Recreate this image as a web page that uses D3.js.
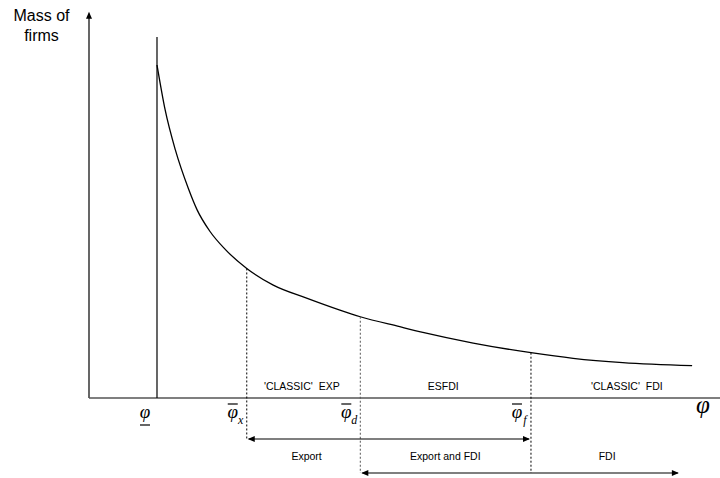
<!DOCTYPE html>
<html>
<head>
<meta charset="utf-8">
<script src="https://cdn.jsdelivr.net/npm/d3@7"></script>
<style>
  body { margin: 0; background: #fff; }
  svg { display: block; }
</style>
</head>
<body>
<div id="chart"></div>
<script>
const width = 720;
const height = 478;

// productivity (phi) and mass of firms
const phiValues = [1.00, 1.12, 1.27, 1.46, 1.59, 1.78, 2.00, 2.32, 2.71, 3.20, 3.69, 3.99, 4.57, 4.91, 5.65, 6.50, 7.12, 7.85, 8.87];
const massValues = [1.000, 0.865, 0.745, 0.630, 0.565, 0.500, 0.447, 0.389, 0.339, 0.300, 0.264, 0.244, 0.214, 0.197, 0.165, 0.136, 0.119, 0.106, 0.097];

// cut-offs
const phiLow = 1.00;
const thresholds = [
  {key: "x", phi: 2.32, bottom: "export"},
  {key: "d", phi: 3.99, bottom: "fdi"},
  {key: "f", phi: 6.50, bottom: "fdi"}
];

const regionLabels = ["'CLASSIC'  EXP", "ESFDI", "'CLASSIC'  FDI"];
const regionPos = [3.13, 5.21, 7.91];

const rangeLabels = ["Export", "Export and FDI", "FDI"];
const rangePos = [3.20, 5.24, 7.62];

const exportRange = [2.32, 6.50];
const fdiRange = [3.99, 8.69];

const x = d3.scaleLinear().domain([0, 9.28]).range([89, 720]);
const y = d3.scaleLinear().domain([0, 1]).range([398, 65]);

const svg = d3.select("#chart")
    .append("svg")
    .attr("width", width)
    .attr("height", height)
    .attr("viewBox", [0, 0, width, height])
    .style("font-family", "'Liberation Sans', Arial, sans-serif");

svg.append("rect").attr("width", width).attr("height", height).attr("fill", "#fff");

function arrowHead(px, py, dir) {
  // dir: "up", "left", "right"
  const l = 7, w = 3;
  let pts;
  if (dir === "up") pts = [[px, py], [px - w, py + l], [px + w, py + l]];
  else if (dir === "left") pts = [[px, py], [px + l, py - w], [px + l, py + w]];
  else pts = [[px, py], [px - l, py - w], [px - l, py + w]];
  svg.append("path").attr("d", "M" + pts.join("L") + "Z").attr("fill", "#000");
}

// axes
svg.append("line")
    .attr("x1", x(0)).attr("x2", x(0))
    .attr("y1", y(0)).attr("y2", y(1.16) + 2)
    .attr("stroke", "#000").attr("stroke-width", 1.2);
arrowHead(x(0), y(1.16), "up");

svg.append("line")
    .attr("x1", x(0)).attr("x2", x(9.28))
    .attr("y1", y(0)).attr("y2", y(0))
    .attr("stroke", "#555").attr("stroke-width", 1.5);

svg.append("text")
    .attr("x", 41.5).attr("y", 21)
    .attr("text-anchor", "middle")
    .attr("font-size", 16)
    .selectAll("tspan")
    .data(["Mass of", "firms"])
    .join("tspan")
    .attr("x", 41.5)
    .attr("dy", (d, i) => i ? 20 : 0)
    .text(d => d);

// lower bound line
svg.append("line")
    .attr("x1", x(phiLow)).attr("x2", x(phiLow))
    .attr("y1", y(0)).attr("y2", y(1.084))
    .attr("stroke", "#000").attr("stroke-width", 1.2);

// density curve
const line = d3.line()
    .x(d => x(d))
    .y((d, i) => y(massValues[i]))
    .curve(d3.curveMonotoneX);

svg.append("path")
    .datum(phiValues)
    .attr("d", line)
    .attr("fill", "none")
    .attr("stroke", "#000")
    .attr("stroke-width", 1.3);

// dashed cut-off lines
const massAt = p => massValues[phiValues.indexOf(p)];
const bottomY = {export: 439, fdi: 473};

svg.selectAll(".cut")
  .data(thresholds)
  .join("line")
    .attr("class", "cut")
    .attr("x1", d => x(d.phi)).attr("x2", d => x(d.phi))
    .attr("y1", d => y(massAt(d.phi)))
    .attr("y2", d => bottomY[d.bottom])
    .attr("stroke", d => d.key === "d" ? "#555" : "#000")
    .attr("stroke-width", 1)
    .attr("stroke-dasharray", "2,2");

// region labels
svg.selectAll(".region")
  .data(regionLabels)
  .join("text")
    .attr("class", "region")
    .attr("x", (d, i) => x(regionPos[i]))
    .attr("y", 390)
    .attr("text-anchor", "middle")
    .attr("font-size", 10.5)
    .style("white-space", "pre")
    .text(d => d);

// phi labels
const serif = "'Liberation Serif', 'Times New Roman', serif";
svg.append("text")
    .attr("x", x(phiLow) - 12).attr("y", 418)
    .attr("text-anchor", "middle")
    .attr("font-family", serif).attr("font-style", "italic").attr("font-size", 19)
    .text("φ");
svg.append("line")
    .attr("x1", x(phiLow) - 17).attr("x2", x(phiLow) - 7)
    .attr("y1", 425).attr("y2", 425)
    .attr("stroke", "#000").attr("stroke-width", 1.2);

const cutLabel = svg.selectAll(".cutlabel")
  .data(thresholds)
  .join("g")
    .attr("class", "cutlabel")
    .attr("transform", d => `translate(${x(d.phi) - 14},0)`);

cutLabel.append("text")
    .attr("y", 418)
    .attr("text-anchor", "middle")
    .attr("font-family", serif).attr("font-style", "italic").attr("font-size", 19)
    .text("φ");
cutLabel.append("line")
    .attr("x1", -5).attr("x2", 5)
    .attr("y1", 404).attr("y2", 404)
    .attr("stroke", "#000").attr("stroke-width", 1.2);
cutLabel.append("text")
    .attr("x", 8).attr("y", 424)
    .attr("text-anchor", "middle")
    .attr("font-family", serif).attr("font-style", "italic").attr("font-size", 12)
    .text(d => d.key);

svg.append("text")
    .attr("x", 703).attr("y", 413)
    .attr("text-anchor", "middle")
    .attr("font-family", serif).attr("font-style", "italic").attr("font-size", 25)
    .text("φ");

// range arrows
function rangeArrow(r, yy) {
  svg.append("line")
      .attr("x1", x(r[0]) + 2).attr("x2", x(r[1]) - 2)
      .attr("y1", yy).attr("y2", yy)
      .attr("stroke", "#000").attr("stroke-width", 1.2);
  arrowHead(x(r[0]) + 1, yy, "left");
  arrowHead(x(r[1]) - 1, yy, "right");
}
rangeArrow(exportRange, 439);
rangeArrow(fdiRange, 473);

svg.selectAll(".range")
  .data(rangeLabels)
  .join("text")
    .attr("class", "range")
    .attr("x", (d, i) => x(rangePos[i]))
    .attr("y", 460)
    .attr("text-anchor", "middle")
    .attr("font-size", 10.5)
    .text(d => d);
</script>
</body>
</html>
